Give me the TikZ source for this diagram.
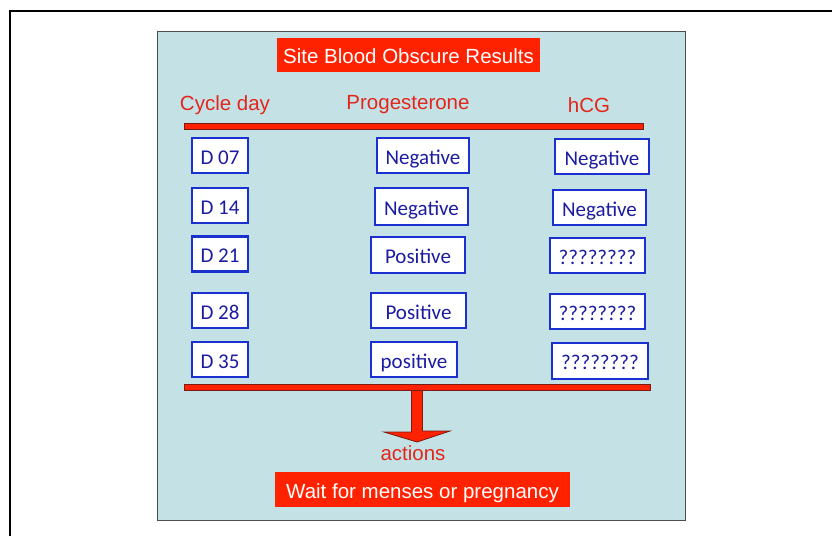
\documentclass[tikz,border=0pt]{standalone}
\usepackage{fontspec}
\usetikzlibrary{calc}
\setmainfont{Liberation Sans}
\newfontfamily\calfont{Carlito}
\definecolor{panelblue}{HTML}{C4E2E6}
\definecolor{titlered}{HTML}{FF2200}
\definecolor{headred}{HTML}{E3261C}
\definecolor{barline}{HTML}{7A1A14}
\definecolor{boxblue}{HTML}{1A30D0}
\definecolor{textblue}{HTML}{1C1CA0}

\begin{document}
\begin{tikzpicture}[x=1pt,y=-1pt,
  redbox/.style={fill=titlered,text=white,inner sep=0pt,font=\fontsize{20.5}{24}\selectfont,
    text height=17.5pt,text depth=0pt},
  head/.style={text=headred,inner sep=0pt,font=\fontsize{20.5}{24}\selectfont},
  bar/.style={fill=titlered,draw=barline,line width=0.8pt,inner sep=0pt,minimum height=6.5},
  val/.style={draw=boxblue,line width=2.4pt,fill=white,text=textblue,inner sep=0pt,
    minimum height=35,font=\calfont\fontsize{21}{24}\selectfont,text height=17pt,text depth=0pt},
  arrowfill/.style={fill=titlered,draw=barline,line width=0.8pt}]
  \useasboundingbox (0,0) rectangle (832,536);
  \draw[line width=2pt] (10,536) -- (10,11) -- (832,11);
  \draw[fill=panelblue,draw=gray!60!black,line width=0.8pt] (157,31) rectangle (685,520);
  \node[redbox,minimum width=263,minimum height=34] (title) at (408.5,55) {Site Blood Obscure Results};
  \node[head] (cycle) at (225,105) {Cycle day};
  \node[head] (prog)  at (408,105) {Progesterone};
  \node[head] (hcg)   at (589,105) {hCG};
  \node[bar,minimum width=459] (topbar) at (413.5,126.5) {};
  % cycle days
  \node[val,minimum width=56] (d07) at (220,155.5) {D 07};
  \node[val,minimum width=56] (d14) at (220,205.5) {D 14};
  \node[val,minimum width=56] (d21) at (220,254)   {D 21};
  \node[val,minimum width=56] (d28) at (220,310.5) {D 28};
  \node[val,minimum width=56] (d35) at (220,359.5) {D 35};
  % progesterone
  \node[val,minimum width=92] (p07) at (423,155.5)   {Negative};
  \node[val,minimum width=93,minimum height=37] (p14) at (421.5,206.5) {Negative};
  \node[val,minimum width=94,minimum height=36] (p21) at (418,255)     {Positive};
  \node[val,minimum width=95] (p28) at (418.5,310.5) {Positive};
  \node[val,minimum width=86] (p35) at (414,359.5)   {positive};
  % hCG
  \node[val,minimum width=94] (h07) at (602,156.5)   {Negative};
  \node[val,minimum width=93] (h14) at (599.5,207.5) {Negative};
  \node[val,minimum width=95] (h21) at (597.5,255.5) {????????};
  \node[val,minimum width=95] (h28) at (597.5,311.5) {????????};
  \node[val,minimum width=96,minimum height=36] (h35) at (600,361) {????????};
  \node[bar,minimum width=466] (lowbar) at (417,387.5) {};
  \node[head] (actions) at (413,453) {actions};
  \coordinate (tip) at (417,442);
  \draw[arrowfill] ($(lowbar.south)+(-5.5,0)$) -- ($(tip)+(-5.5,-10)$) -- ($(tip)+(-33,-10)$) -- (tip)
    -- ($(tip)+(33,-11)$) -- ($(tip)+(5.5,-11)$) -- ($(lowbar.south)+(5.5,0)$);
  \node[redbox,minimum width=295,minimum height=35] (wait) at (422.5,489.5) {Wait for menses or pregnancy};
\end{tikzpicture}
\end{document}
